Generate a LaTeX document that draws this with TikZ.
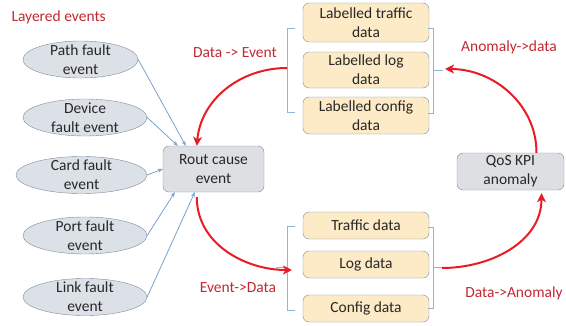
\documentclass[tikz,border=0pt]{standalone}
\usepackage{fontspec}
\setmainfont{Carlito}
\usetikzlibrary{arrows.meta,shapes.geometric}

\definecolor{testoscuro}{RGB}{40,40,40}
\definecolor{rossoscuro}{RGB}{195,40,50}
\definecolor{rosso}{RGB}{232,28,36}
\definecolor{azzurro}{RGB}{120,162,208}
\definecolor{parentesiblu}{RGB}{140,180,222}
\definecolor{grigio}{RGB}{220,224,231}
\definecolor{grigiobox}{RGB}{222,223,227}
\definecolor{bordo}{RGB}{125,140,160}
\definecolor{crema}{RGB}{253,234,198}

\begin{document}
\begin{tikzpicture}[x=1pt,y=1pt]
	% Stili per eventi, riquadri e frecce
	\tikzset{
		testo/.style={font=\fontsize{15.5}{19}\selectfont, text=testoscuro, align=center},
		etichetta/.style={font=\fontsize{15.5}{19}\selectfont, text=rossoscuro},
		evento/.style={ellipse, draw=bordo, fill=grigio, minimum width=124pt, minimum height=37pt, inner sep=0pt},
		scatola/.style={rectangle, rounded corners=6pt, draw=bordo, fill=crema, minimum width=126pt, inner sep=0pt, testo},
		grigiobox/.style={scatola, fill=grigiobox},
		collega/.style={azzurro, line width=0.8pt, -{Stealth[length=5pt,width=4pt]}},
		freccia/.style={rosso, line width=2pt, -{Stealth[length=9pt,width=9pt,inset=2.5pt]}},
		parentesi/.style={parentesiblu, line width=0.8pt}
	}
	\useasboundingbox (0,0) rectangle (566,325);
	
	% Eventi a strati
	\node[etichetta, anchor=west] (titolo) at (8,308) {Layered events};
	\node[evento, minimum width=115pt, label={[testo]center:Path fault\\event}] (path) at (80.5,265.5) {};
	\node[evento, label={[testo]center:Device\\fault event}] (device) at (85,207.5) {};
	\node[evento, minimum width=131pt, label={[testo]center:Card fault\\event}] (card) at (81.5,150) {};
	\node[evento, label={[testo]center:Port fault\\event}] (port) at (85,89.5) {};
	\node[evento, label={[testo]center:Link fault\\event}] (link) at (85,28) {};
	
	% Riquadri centrali
	\node[grigiobox, minimum width=101pt, minimum height=46pt] (causa) at (213.5,156) {Rout cause\\event};
	\node[grigiobox, minimum width=107pt, minimum height=37pt] (qos) at (510.5,153.5) {QoS KPI\\anomaly};
	
	\node[scatola, minimum height=39pt] (ltraffic) at (366,302.5) {Labelled traffic\\data};
	\node[scatola, minimum height=36pt] (llog) at (366,255) {Labelled log\\data};
	\node[scatola, minimum height=37pt] (lconfig) at (366,209.5) {Labelled config\\data};
	
	\node[scatola, minimum height=27pt] (traffic) at (366,99.5) {Traffic data};
	\node[scatola, minimum height=27pt] (log) at (366,60.5) {Log data};
	\node[scatola, minimum height=27pt] (config) at (366,16.5) {Config data};
	
	% Parentesi
	\draw[parentesi] (295,297) -- (287,297) -- (287,213) -- (295,213);
	\draw[parentesi] (287,257) -- (277,257);
	\draw[parentesi] (428,297) -- (433,297) -- (433,212) -- (428,212);
	\draw[parentesi] (433,255) -- (443,255);
	\draw[parentesi] (295,99) -- (287,99) -- (287,15) -- (295,15);
	\draw[parentesi] (287,58) -- (276,58);
	\draw[parentesi] (428,98) -- (433,98) -- (433,17) -- (428,17);
	\draw[parentesi] (433,58) -- (447,58);
	\coordinate (dae) at (287,257);
	\coordinate (ad) at (445,256);
	\coordinate (ed) at (292,55);
	\coordinate (da) at (442,57);
	
	% Collegamenti eventi -> causa
	\draw[collega] (path.east) -- ([xshift=23pt]causa.north west);
	\draw[collega] (device.east) -- ([xshift=15pt]causa.north west);
	\draw[collega] (card.east) -- (causa.west);
	\draw[collega] (port.east) -- ([xshift=12pt]causa.south west);
	\draw[collega] (link.east) -- ([xshift=32pt]causa.south west);
	
	% Frecce rosse
	\draw[freccia] (dae) to[out=180,in=85] ([xshift=34pt]causa.north west);
	\draw[freccia] ([xshift=34pt,yshift=-5pt]causa.south west) to[out=-90,in=180] (ed);
	\draw[freccia] (da) to[out=0,in=-90] ([xshift=31pt,yshift=-3pt]qos.south);
	\draw[freccia] ([xshift=26pt]qos.north) to[out=90,in=0] (ad);
	
	\node[etichetta] (lde) at (235,272) {Data -> Event};
	\node[etichetta] (led) at (238,37) {Event->Data};
	\node[etichetta] (lad) at (509,278) {Anomaly->data};
	\node[etichetta] (lda) at (514,32) {Data->Anomaly};
\end{tikzpicture}
\end{document}
